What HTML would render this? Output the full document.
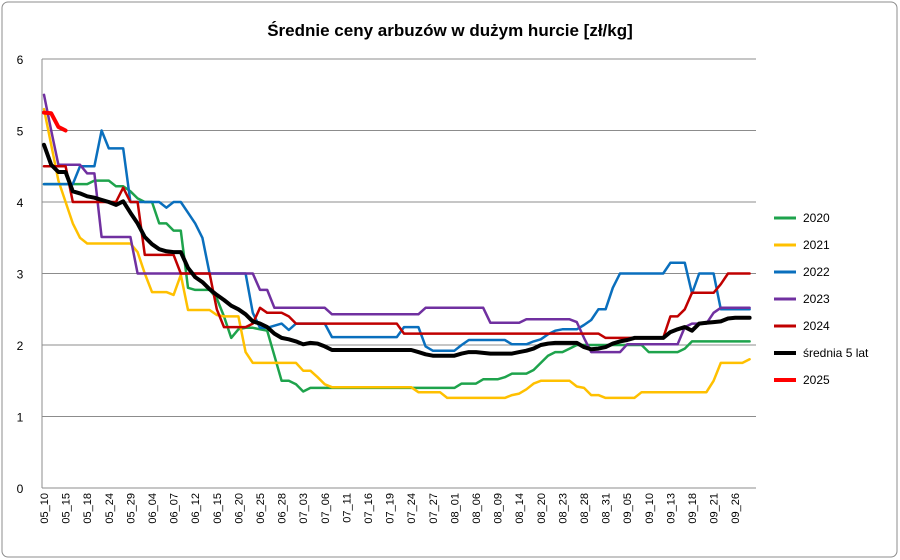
<!DOCTYPE html>
<html><head><meta charset="utf-8">
<style>
body{margin:0;background:#fff;font-family:"Liberation Sans",sans-serif;}
#wrap{position:relative;width:900px;height:560px;overflow:hidden;}
</style></head>
<body>
<div id="wrap">
<svg id="chart" width="900" height="560" xmlns="http://www.w3.org/2000/svg">
<rect x="2" y="2" width="895" height="555" rx="6" fill="#fff" stroke="#8c8c8c" stroke-width="1"/>
<text x="450" y="36" text-anchor="middle" font-family="Liberation Sans, sans-serif" font-size="17" font-weight="bold" fill="#000">Średnie ceny arbuzów w dużym hurcie [zł/kg]</text>
<g id="grid"></g><g id="axes"></g><g id="series"></g><g id="legend"></g>
</svg>
</div>
<script>
const tickLabels = ["05_10","05_15","05_18","05_24","05_29","06_04","06_07","06_12","06_15","06_20","06_25","06_28","07_03","07_06","07_11","07_16","07_19","07_24","07_27","08_01","08_06","08_09","08_14","08_20","08_23","08_28","08_31","09_05","09_10","09_13","09_18","09_21","09_26"];
const yTicks = [0,1,2,3,4,5,6];
const s2020 = [4.25,4.25,4.25,4.25,4.25,4.25,4.25,4.3,4.3,4.3,4.22,4.22,4.15,4.05,4.0,4.0,3.7,3.7,3.6,3.6,2.8,2.77,2.77,2.77,2.65,2.4,2.1,2.22,2.24,2.24,2.22,2.2,1.85,1.5,1.5,1.45,1.35,1.4,1.4,1.4,1.4,1.4,1.4,1.4,1.4,1.4,1.4,1.4,1.4,1.4,1.4,1.4,1.4,1.4,1.4,1.4,1.4,1.4,1.46,1.46,1.46,1.52,1.52,1.52,1.55,1.6,1.6,1.6,1.65,1.75,1.85,1.9,1.9,1.95,2.0,2.0,2.0,2.0,2.0,2.0,2.0,2.0,2.0,2.0,1.9,1.9,1.9,1.9,1.9,1.95,2.05,2.05,2.05,2.05,2.05,2.05,2.05,2.05,2.05];
const s2021 = [5.3,4.8,4.3,4.0,3.7,3.5,3.42,3.42,3.42,3.42,3.42,3.42,3.42,3.3,3.0,2.74,2.74,2.74,2.7,2.98,2.49,2.49,2.49,2.49,2.42,2.4,2.4,2.4,1.9,1.75,1.75,1.75,1.75,1.75,1.75,1.75,1.64,1.64,1.55,1.45,1.41,1.41,1.41,1.41,1.41,1.41,1.41,1.41,1.41,1.41,1.41,1.41,1.34,1.34,1.34,1.34,1.26,1.26,1.26,1.26,1.26,1.26,1.26,1.26,1.26,1.3,1.32,1.38,1.46,1.5,1.5,1.5,1.5,1.5,1.42,1.4,1.3,1.3,1.26,1.26,1.26,1.26,1.26,1.34,1.34,1.34,1.34,1.34,1.34,1.34,1.34,1.34,1.34,1.5,1.75,1.75,1.75,1.75,1.8];
const s2022 = [4.25,4.25,4.25,4.25,4.25,4.5,4.5,4.5,5.0,4.75,4.75,4.75,4.0,4.0,4.0,4.0,4.0,3.92,4.0,4.0,3.85,3.7,3.5,3.0,3.0,3.0,3.0,3.0,3.0,2.45,2.24,2.24,2.27,2.3,2.21,2.3,2.3,2.3,2.3,2.3,2.11,2.11,2.11,2.11,2.11,2.11,2.11,2.11,2.11,2.11,2.25,2.25,2.25,1.98,1.92,1.92,1.92,1.92,2.0,2.07,2.07,2.07,2.07,2.07,2.07,2.01,2.01,2.01,2.05,2.08,2.15,2.2,2.22,2.22,2.22,2.28,2.35,2.5,2.5,2.8,3.0,3.0,3.0,3.0,3.0,3.0,3.0,3.15,3.15,3.15,2.72,3.0,3.0,3.0,2.5,2.5,2.5,2.5,2.5];
const s2023 = [5.5,5.0,4.52,4.52,4.52,4.52,4.4,4.4,3.51,3.51,3.51,3.51,3.51,3.0,3.0,3.0,3.0,3.0,3.0,3.0,3.0,3.0,3.0,3.0,3.0,3.0,3.0,3.0,3.0,3.0,2.77,2.77,2.52,2.52,2.52,2.52,2.52,2.52,2.52,2.52,2.43,2.43,2.43,2.43,2.43,2.43,2.43,2.43,2.43,2.43,2.43,2.43,2.43,2.52,2.52,2.52,2.52,2.52,2.52,2.52,2.52,2.52,2.31,2.31,2.31,2.31,2.31,2.36,2.36,2.36,2.36,2.36,2.36,2.36,2.32,2.1,1.9,1.9,1.9,1.9,1.9,2.01,2.01,2.01,2.01,2.01,2.01,2.01,2.01,2.25,2.3,2.3,2.3,2.45,2.52,2.52,2.52,2.52,2.52];
const s2024 = [4.5,4.5,4.5,4.5,4.0,4.0,4.0,4.0,4.0,4.0,4.0,4.2,4.0,4.0,3.26,3.26,3.26,3.26,3.26,3.0,3.0,3.0,3.0,3.0,2.5,2.25,2.25,2.25,2.25,2.3,2.52,2.45,2.45,2.45,2.4,2.3,2.3,2.3,2.3,2.3,2.3,2.3,2.3,2.3,2.3,2.3,2.3,2.3,2.3,2.3,2.16,2.16,2.16,2.16,2.16,2.16,2.16,2.16,2.16,2.16,2.16,2.16,2.16,2.16,2.16,2.16,2.16,2.16,2.16,2.16,2.16,2.16,2.16,2.16,2.16,2.16,2.16,2.16,2.1,2.1,2.1,2.1,2.1,2.1,2.1,2.1,2.1,2.4,2.4,2.5,2.73,2.73,2.73,2.73,2.85,3.0,3.0,3.0,3.0];
const sAvg = [4.8,4.52,4.42,4.42,4.15,4.12,4.08,4.06,4.03,4.0,3.96,4.01,3.85,3.7,3.51,3.41,3.34,3.31,3.3,3.3,3.08,2.95,2.88,2.78,2.7,2.63,2.55,2.5,2.43,2.33,2.3,2.25,2.16,2.1,2.08,2.05,2.01,2.03,2.02,1.98,1.93,1.93,1.93,1.93,1.93,1.93,1.93,1.93,1.93,1.93,1.93,1.93,1.9,1.87,1.85,1.85,1.85,1.85,1.88,1.9,1.9,1.89,1.88,1.88,1.88,1.88,1.9,1.92,1.95,2.0,2.02,2.03,2.03,2.03,2.03,1.97,1.94,1.95,1.97,2.02,2.05,2.07,2.1,2.1,2.1,2.1,2.1,2.18,2.22,2.25,2.2,2.3,2.31,2.32,2.33,2.37,2.38,2.38,2.38];
const s2025 = [5.25,5.24,5.05,5.0];
const seriesNames = ["2020","2021","2022","2023","2024","średnia 5 lat","2025"];

const NS="http://www.w3.org/2000/svg";
const X0=44, DX=7.2, Y0=488, YU=71.5, PLOT_L=42, PLOT_R=756;
function xPos(i){return X0+i*DX;}
function yPos(v){return Y0-v*YU;}
function mk(tag,attrs,parent){const e=document.createElementNS(NS,tag);for(const k in attrs)e.setAttribute(k,attrs[k]);parent.appendChild(e);return e;}
const grid=document.getElementById('grid'), axes=document.getElementById('axes'), ser=document.getElementById('series'), leg=document.getElementById('legend');

yTicks.forEach(t=>{
  if(t>0){const g=mk('line',{x1:PLOT_L,x2:PLOT_R,y1:yPos(t),y2:yPos(t),stroke:'#8c8c8c','stroke-width':1},grid);
  
  }
  const tx=mk('text',{x:20,y:yPos(t)+5,'text-anchor':'middle','font-size':12,fill:'#000','font-family':'Liberation Sans, sans-serif'},axes);
  tx.textContent=t;
  
  
});
const ax=mk('line',{x1:PLOT_L,x2:PLOT_L,y1:yPos(6),y2:Y0,stroke:'#8c8c8c','stroke-width':1},axes);


const bx=mk('line',{x1:PLOT_L,x2:PLOT_R,y1:Y0,y2:Y0,stroke:'#8c8c8c','stroke-width':1},axes);


tickLabels.forEach((lab,k)=>{
  const x=xPos(k*3)+4;
  const t=mk('text',{x:0,y:0,transform:`translate(${x},${493}) rotate(-90)`,'text-anchor':'end','font-size':11,fill:'#000','font-family':'Liberation Sans, sans-serif'},axes);
  t.textContent=lab;
  
  
});

const allSeries=[s2020,s2021,s2022,s2023,s2024,sAvg,s2025];
const colors=['#1ea34c','#ffc000','#0a6fbd','#7030a0','#c00000','#000000','#ff0000'];
const widths=[2.5,2.5,2.5,2.5,2.5,4,4];
allSeries.forEach((arr,si)=>{
  const d=arr.map((v,i)=>(i?'L':'M')+xPos(i).toFixed(1)+','+yPos(v).toFixed(1)).join(' ');
  const p=mk('path',{d:d,fill:'none',stroke:colors[si],'stroke-width':widths[si],'stroke-linejoin':'round','stroke-linecap':'round'},ser);
  
  
});

seriesNames.forEach((n,si)=>{
  const y=218+si*27;
  const g=mk('g',{},leg);
  
  
  mk('line',{x1:774,x2:796,y1:y,y2:y,stroke:colors[si],'stroke-width':si>=5?4:3},g);
  const t=mk('text',{x:803,y:y+4,'font-size':12,fill:'#000','font-family':'Liberation Sans, sans-serif'},g);
  t.textContent=n;
});
</script>
</body></html>
